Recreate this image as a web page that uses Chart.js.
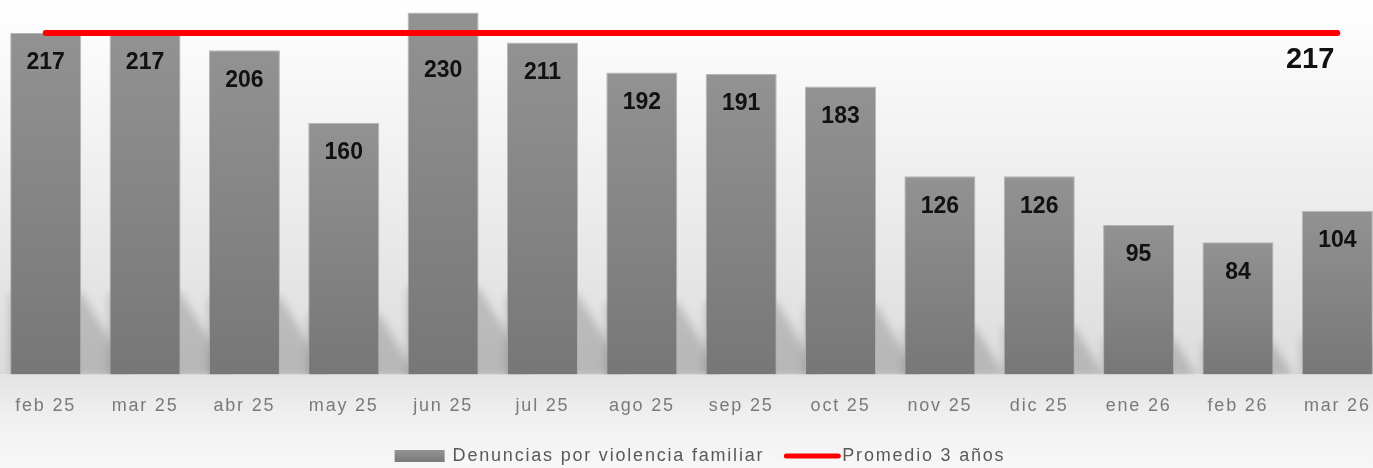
<!DOCTYPE html>
<html><head><meta charset="utf-8">
<script src="https://cdn.jsdelivr.net/npm/chart.js@4.4.1/dist/chart.umd.min.js"></script>
<style>
html,body{margin:0;padding:0;overflow:hidden;background:#fff;width:1373px;height:468px}
#wrap{position:absolute;left:-4px;top:0;width:1391px;height:468px}
</style></head><body>
<div id="wrap"><canvas id="c" width="1391" height="468"></canvas></div>
<script>
const categories = ['feb 25','mar 25','abr 25','may 25','jun 25','jul 25','ago 25','sep 25','oct 25','nov 25','dic 25','ene 26','feb 26','mar 26'];
const denuncias = [217,217,206,160,230,211,192,191,183,126,126,95,84,104];
const promedio = [217,217,217,217,217,217,217,217,217,217,217,217,217,217];
const seriesNames = ['Denuncias por violencia familiar','Promedio 3 años'];

const OFFSET = 4; // canvas x = page x + OFFSET
const FONT = "'Liberation Sans', Arial, sans-serif";

const bgPlugin = {
  id: 'bg',
  beforeDraw(chart) {
    const ctx = chart.ctx, ca = chart.chartArea;
    ctx.save();
    const g = ctx.createLinearGradient(0, 0, 0, ca.bottom);
    g.addColorStop(0, '#ffffff');
    g.addColorStop(1, '#dcdcdc');
    ctx.fillStyle = g;
    ctx.fillRect(0, 0, chart.width, ca.bottom);
    const g2 = ctx.createLinearGradient(0, ca.bottom, 0, chart.height);
    g2.addColorStop(0, '#e3e3e3');
    g2.addColorStop(0.5, '#f1f1f1');
    g2.addColorStop(1, '#f7f7f7');
    ctx.fillStyle = g2;
    ctx.fillRect(0, ca.bottom, chart.width, chart.height - ca.bottom);
    ctx.restore();
    ctx.letterSpacing = '1.8px';
  },
  beforeDatasetsDraw(chart) {
    const ctx = chart.ctx, ca = chart.chartArea;
    const meta = chart.getDatasetMeta(0);
    ctx.save();
    ctx.beginPath();
    ctx.rect(ca.left, ca.top, ca.right - ca.left, ca.bottom - ca.top);
    ctx.clip();
    ctx.filter = 'blur(4px)';
    ctx.fillStyle = 'rgba(0,0,0,0.17)';
    meta.data.forEach((bar) => {
      const L = bar.x - bar.width / 2, R = bar.x + bar.width / 2, B = bar.base;
      const h = (B - bar.y) * 0.24;
      ctx.beginPath();
      ctx.moveTo(L, B + 2);
      ctx.lineTo(L, B - h);
      ctx.lineTo(R, B - h);
      ctx.lineTo(R + h / 1.6, B + 2);
      ctx.closePath();
      ctx.fill();
    });
    ctx.restore();
  }
};

const labelPlugin = {
  id: 'labels',
  afterDatasetsDraw(chart) {
    const ctx = chart.ctx;
    const barMeta = chart.getDatasetMeta(0);
    const lineMeta = chart.getDatasetMeta(1);
    ctx.save();
    ctx.letterSpacing = '0px';
    ctx.fillStyle = '#111111';
    ctx.textAlign = 'center';
    ctx.textBaseline = 'middle';
    ctx.font = "bold 23px " + FONT;
    barMeta.data.forEach((bar, i) => {
      let y = bar.y + 30;
      const ly = lineMeta.data[i].y;
      if (Math.abs(y - ly) < 22) y = ly + 38;
      ctx.fillText(String(denuncias[i]), bar.x, y);
    });
    const last = lineMeta.data[lineMeta.data.length - 1];
    ctx.font = "bold 29px " + FONT;
    ctx.textAlign = 'right';
    ctx.fillText(String(promedio[promedio.length - 1]), last.x - 3, last.y + 27);
    ctx.restore();
  },
  afterDraw(chart) {
    const ctx = chart.ctx;
    ctx.save();
    ctx.letterSpacing = '1.8px';
    ctx.font = "18px " + FONT;
    ctx.textBaseline = 'middle';
    ctx.textAlign = 'left';
    const w1 = ctx.measureText(seriesNames[0]).width;
    const w2 = ctx.measureText(seriesNames[1]).width;
    const boxW = 50, lineW = 52;
    const total = boxW + 8 + w1 + 22 + lineW + 4 + w2;
    let x = 700 + OFFSET - total / 2;
    const y = 456;
    const g = ctx.createLinearGradient(0, y - 6, 0, y + 6);
    g.addColorStop(0, '#939393'); g.addColorStop(1, '#7a7a7a');
    ctx.fillStyle = g;
    ctx.fillRect(x, y - 6, boxW, 12);
    x += boxW + 8;
    ctx.fillStyle = '#595959';
    ctx.fillText(seriesNames[0], x, y);
    x += w1 + 22;
    ctx.strokeStyle = '#ff0000';
    ctx.lineWidth = 5;
    ctx.lineCap = 'round';
    ctx.beginPath();
    ctx.moveTo(x, y); ctx.lineTo(x + lineW, y); ctx.stroke();
    x += lineW + 4;
    ctx.fillText(seriesNames[1], x, y);
    ctx.restore();
  }
};

new Chart(document.getElementById('c'), {
  data: {
    labels: categories,
    datasets: [
      {
        type: 'bar',
        label: seriesNames[0],
        data: denuncias,
        order: 1,
        barPercentage: 0.715,
        categoryPercentage: 1,
        borderWidth: 1,
        borderColor: 'rgba(175,175,175,0.9)',
        backgroundColor: (c) => {
          const chart = c.chart;
          const ca = chart.chartArea;
          if (!ca || c.type !== 'data') return '#888888';
          const top = chart.scales.y.getPixelForValue(c.raw);
          const g = chart.ctx.createLinearGradient(0, top, 0, ca.bottom);
          g.addColorStop(0, '#929292');
          g.addColorStop(1, '#777777');
          return g;
        }
      },
      {
        type: 'line',
        label: seriesNames[1],
        data: promedio,
        order: 0,
        borderColor: '#ff0000',
        borderWidth: 6,
        borderCapStyle: 'round',
        pointRadius: 0,
        pointHoverRadius: 0,
        fill: false,
        tension: 0
      }
    ]
  },
  options: {
    responsive: false,
    animation: false,
    devicePixelRatio: 1,
    layout: { padding: 0 },
    plugins: { legend: { display: false }, tooltip: { enabled: false } },
    scales: {
      x: {
        type: 'category',
        offset: true,
        grid: { display: false, drawTicks: false },
        border: { display: false },
        ticks: { color: '#7a7a7a', font: { size: 18, family: FONT }, padding: 21, maxRotation: 0, autoSkip: false },
        afterFit: (s) => { s.height = 93.5; }
      },
      y: { display: false, min: 0, max: 238 }
    }
  },
  plugins: [bgPlugin, labelPlugin]
});
</script>
</body></html>
